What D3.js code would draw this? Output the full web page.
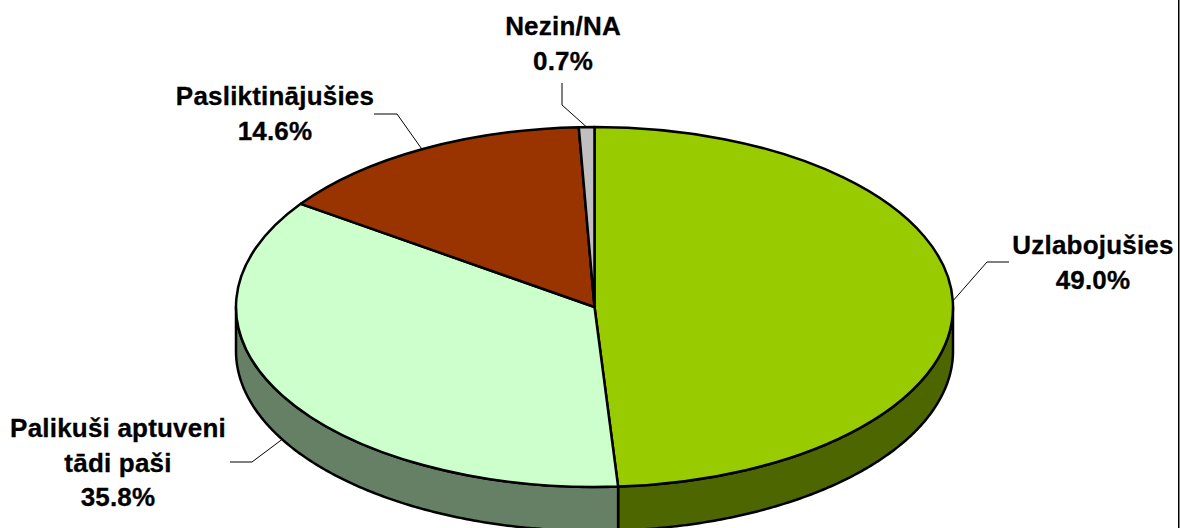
<!DOCTYPE html>
<html>
<head>
<meta charset="utf-8">
<script src="https://cdn.jsdelivr.net/npm/d3@7"></script>
<style>
  html, body { margin: 0; padding: 0; background: #fff; }
  svg { display: block; }
  text { font-family: "Liberation Sans", Arial, sans-serif; font-weight: bold; font-size: 26px; letter-spacing: 0.2px; fill: #000; stroke: #000; stroke-width: 0.3px; text-anchor: middle; }
</style>
</head>
<body>
<svg id="chart" width="1180" height="528"></svg>
<script>
// values, clockwise from the top
const categories = ['Uzlabojušies', 'Palikuši aptuveni tādi paši', 'Pasliktinājušies', 'Nezin/NA'];
const values = [49.0, 35.8, 14.6, 0.7];
const labelLines = [['Uzlabojušies'], ['Palikuši aptuveni', 'tādi paši'], ['Pasliktinājušies'], ['Nezin/NA']];
const topColors = ['#99cc00', '#ccffcc', '#993300', '#c0c0c0'];
const wallColors = ['#4d6600', '#668066', '#4d1a00', '#606060'];

// label layout: text centre, first baseline, leader elbow and leader end
const labelX = [1093, 118, 275, 563];
const labelY = [254, 437, 105, 35];
const elbowX = [987, 252, 397, 562];
const elbowY = [262, 462, 114, 105];
const stubX = [1009, 230, 374, 562];
const stubY = [262, 462, 114, 83];

const width = 1180, height = 528;
const cx = 594.5, cy = 307, rx = 358.5, ry = 180, depth = 44;

const svg = d3.select('#chart');

// the outer frame only shows on the right edge
svg.append('rect').attr('x', 1178).attr('y', 0).attr('width', 1.5).attr('height', height).attr('fill', '#000');

const slices = d3.pie().sort(null).value(d => d)(values);

const px = d3.scaleLinear().domain([-1, 1]).range([cx - rx, cx + rx]);
const py = d3.scaleLinear().domain([-1, 1]).range([cy - ry, cy + ry]);
const pointAt = (a, dy) => [px(Math.sin(a)), py(-Math.cos(a)) + dy];

// side wall, only the part of each slice facing the viewer
const line = d3.line();
slices.forEach((s, i) => {
  const a0 = Math.max(s.startAngle, Math.PI / 2);
  const a1 = Math.min(s.endAngle, Math.PI * 1.5);
  if (a1 <= a0) return;
  const angles = d3.range(a0, a1, 0.01).concat(a1);
  const pts = angles.map(a => pointAt(a, 0))
    .concat(angles.slice().reverse().map(a => pointAt(a, depth)));
  svg.append('path')
    .attr('d', line(pts) + 'Z')
    .attr('fill', wallColors[i])
    .attr('stroke', '#000').attr('stroke-width', 2.5).attr('stroke-linejoin', 'round');
});

// top face
const arc = d3.arc().innerRadius(0).outerRadius(rx);
svg.append('g')
  .attr('transform', `translate(${cx},${cy}) scale(1,${ry / rx})`)
  .selectAll('path')
  .data(slices).enter().append('path')
  .attr('d', arc)
  .attr('fill', (d, i) => topColors[i])
  .attr('stroke', '#000').attr('stroke-width', 2.5).attr('stroke-linejoin', 'round')
  .attr('vector-effect', 'non-scaling-stroke');

// leaders run from the slice middle out to the label
slices.forEach((s, i) => {
  const mid = (s.startAngle + s.endAngle) / 2;
  const facing = mid > Math.PI * 0.6 && mid < Math.PI * 1.5;
  svg.append('path')
    .attr('d', line([[stubX[i], stubY[i]], [elbowX[i], elbowY[i]], pointAt(mid, facing ? depth : 0)]))
    .attr('fill', 'none').attr('stroke', '#000').attr('stroke-width', 1);
});

// labels
slices.forEach((s, i) => {
  const lines = labelLines[i].concat(values[i].toFixed(1) + '%');
  const t = svg.append('text').attr('x', labelX[i]).attr('y', labelY[i]);
  lines.forEach((l, j) => {
    t.append('tspan').attr('x', labelX[i]).attr('dy', j ? 34.5 : 0).text(l);
  });
});
</script>
</body>
</html>
